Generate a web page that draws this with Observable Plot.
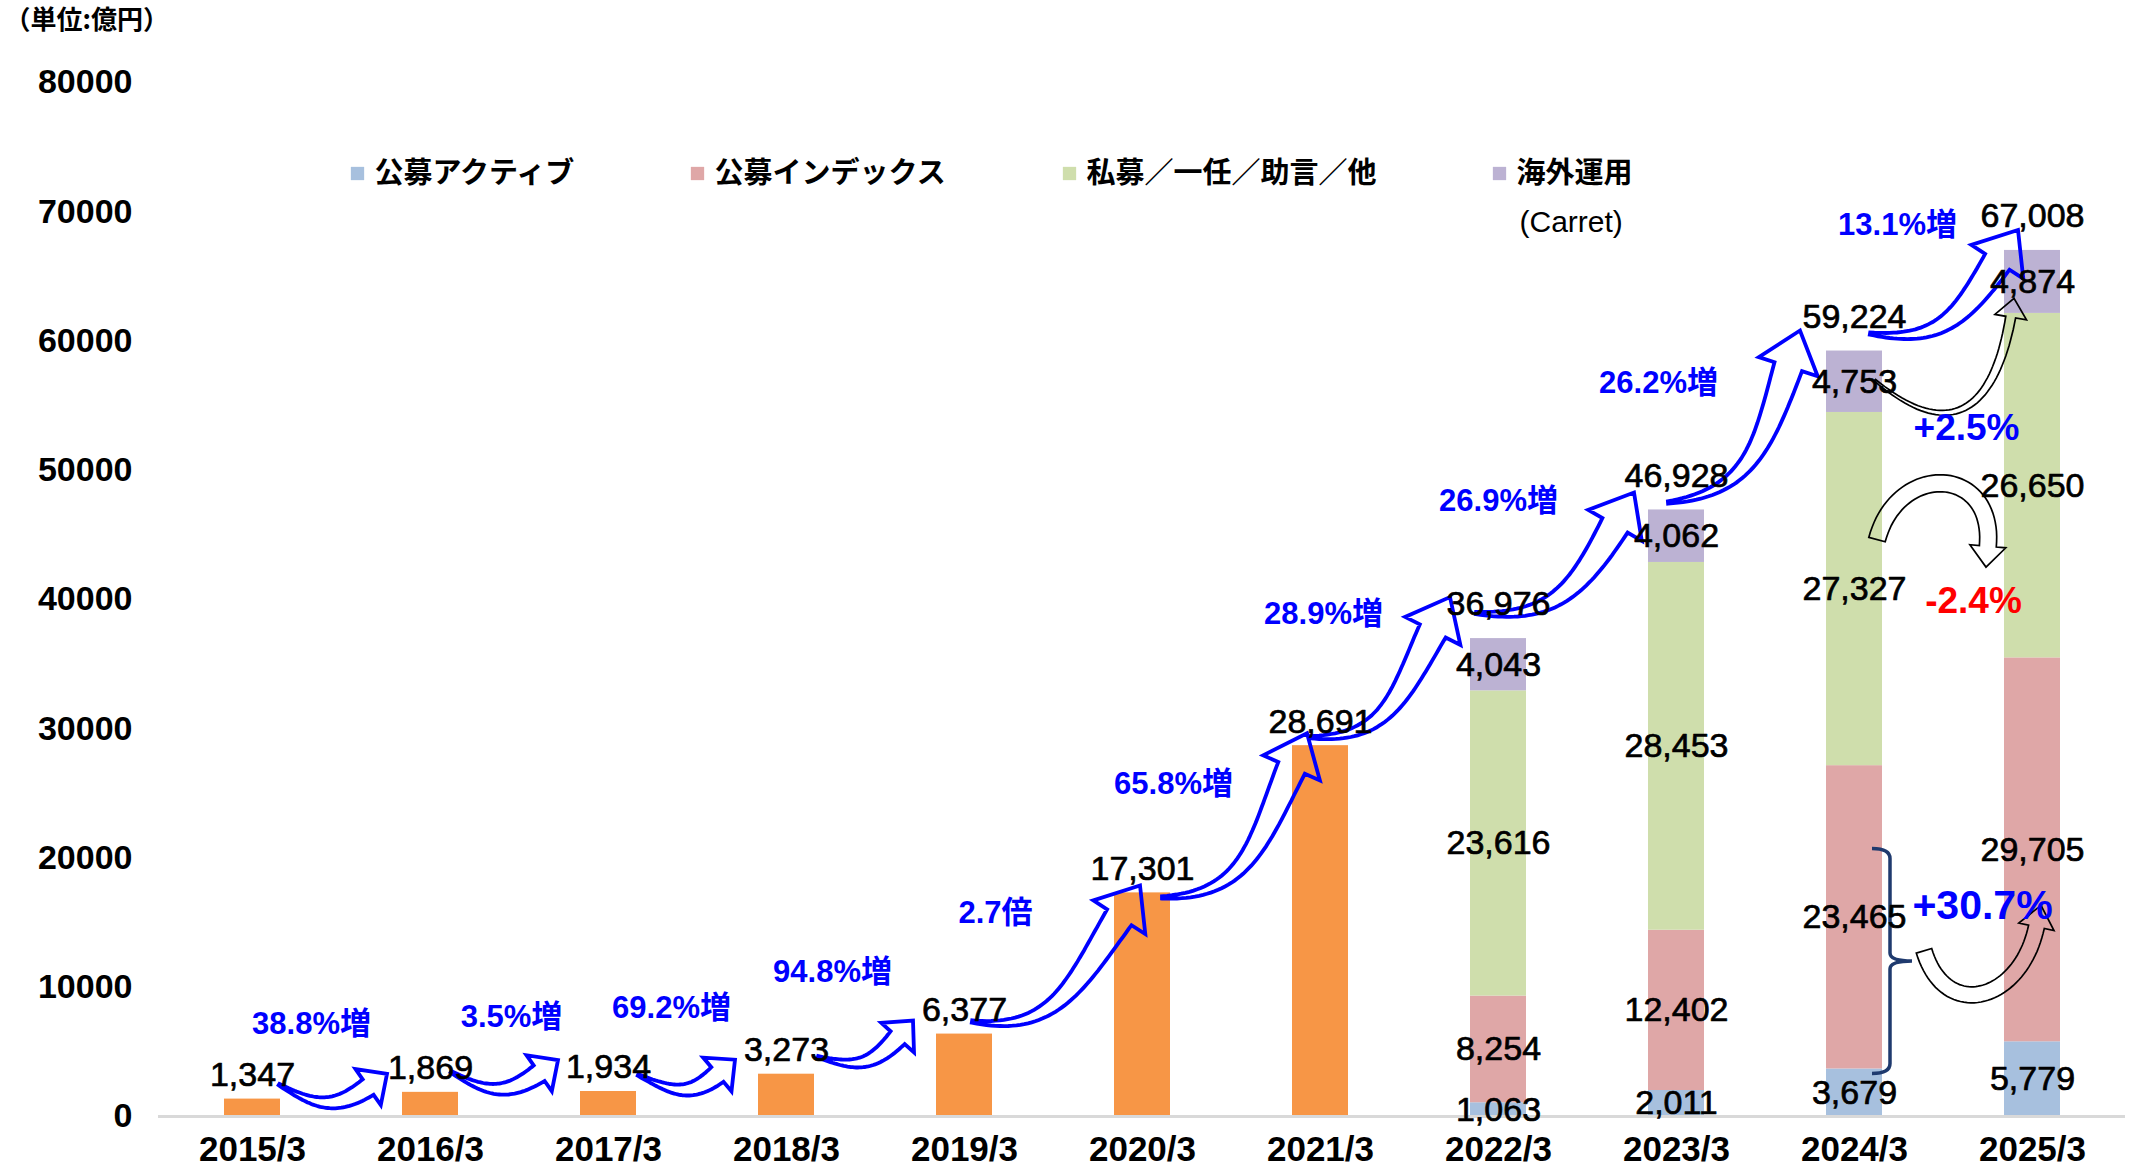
<!DOCTYPE html>
<html>
<head>
<meta charset="utf-8">
<script src="https://cdn.jsdelivr.net/npm/d3@7"></script>
<script src="https://cdn.jsdelivr.net/npm/@observablehq/plot@0.6"></script>
<style>
  html, body { margin: 0; padding: 0; background: #ffffff; }
  #chart { width: 2140px; height: 1168px; overflow: hidden; }
</style>
</head>
<body>
<div id="chart"></div>
<script>
// ---------------- DATA ----------------
const years = ["2015/3","2016/3","2017/3","2018/3","2019/3","2020/3","2021/3","2022/3","2023/3","2024/3","2025/3"];
const totals = [1347, 1869, 1934, 3273, 6377, 17301, 28691, 36976, 46928, 59224, 67008];

const series = ["公募アクティブ", "公募インデックス", "私募／一任／助言／他", "海外運用"];
const breakdownYears = ["2022/3", "2023/3", "2024/3", "2025/3"];
const publicActive = [1063, 2011, 3679, 5779];
const publicIndex  = [8254, 12402, 23465, 29705];
const privateEtc   = [23616, 28453, 27327, 26650];
const overseas     = [4043, 4062, 4753, 4874];

const growthLabels = ["38.8%増", "3.5%増", "69.2%増", "94.8%増", "2.7倍", "65.8%増", "28.9%増", "26.9%増", "26.2%増", "13.1%増"];
const compareLabels = ["+2.5%", "-2.4%", "+30.7%"];
const legendNote = "(Carret)";
const unitLabel = "（単位:億円）";
const yTicks = [0, 10000, 20000, 30000, 40000, 50000, 60000, 70000, 80000];

// ---------------- STYLE / LAYOUT ----------------
const COLORS = ["#f79646", "#a7c0de", "#dfa7a7", "#cfdeac", "#bcb2d3"];
const FONT_NUM = "'Liberation Sans', Arial, 'Noto Sans CJK JP', sans-serif";
const FONT_JP = "'Noto Sans CJK JP', 'Liberation Sans', sans-serif";
const BLUE = "#0000ff";

// annotation nudges in px, relative to the bar tops each arrow connects
const growthLayout = [
  {tail: [27, -14], tip: [-43, -18], head: -35, label: [59, -68], big: false},
  {tail: [21, -20], tip: [-50, -31], head: -35, label: [81, -74], big: false},
  {tail: [30, -16], tip: [-51, -14], head: -40, label: [63, -66], big: false},
  {tail: [32, -17], tip: [-51, -13], head: -48, label: [46, -62], big: false},
  {tail: [8, -12],  tip: [-2, -7],   head: -57, label: [31, 20],  big: true},
  {tail: [20, 5],   tip: [-13, -12], head: -66, label: [31, 38],  big: true},
  {tail: [-10, -8], tip: [-48, -41], head: -63, label: [3, -25],  big: true},
  {tail: [-22, -25],tip: [-42, -17], head: -60, label: [0, -9],   big: true},
  {tail: [-8, -7],  tip: [-54, -20], head: -72, label: [-18, 32], big: true},
  {tail: [16, -17], tip: [-14, -20], head: -57, label: [43, -25], big: true}
];
const SMALL = {sw: 19, hw: 44, hl: 23};
const BIG = {sw: 29, hw: 62, hl: 38};

// ---------------- TABLES ----------------
const fmt = d3.format(",");
const seriesValues = [publicActive, publicIndex, privateEtc, overseas];
const barRows = [];
years.forEach((yr, i) => {
  if (!breakdownYears.includes(yr)) barRows.push({year: yr, series: "total", value: totals[i]});
});
const segLabels = [];
breakdownYears.forEach((yr, j) => {
  let base = 0;
  seriesValues.forEach((arr, k) => {
    barRows.push({year: yr, series: series[k], value: arr[j]});
    segLabels.push({year: yr, k, value: arr[j], mid: base + arr[j] / 2});
    base += arr[j];
  });
});
const segMid = (yr, k) => segLabels.find(d => d.year === yr && d.k === k).mid;
const totalRows = years.map((yr, i) => ({year: yr, value: totals[i], stacked: breakdownYears.includes(yr)}));

// ---------------- ARROW GEOMETRY ----------------
function blockArrow(T, P, o) {
  const rad = a => a * Math.PI / 180;
  const hd = [Math.cos(rad(o.headAngle)), Math.sin(rad(o.headAngle))];
  const td = [Math.cos(rad(o.tailAngle)), Math.sin(rad(o.tailAngle))];
  const L = Math.hypot(P[0] - T[0], P[1] - T[1]);
  const E = [P[0] - o.hl * hd[0], P[1] - o.hl * hd[1]];
  const a = o.bow * L;
  const C1 = [T[0] + a * td[0], T[1] + a * td[1]];
  const C2 = [E[0] - a * hd[0], E[1] - a * hd[1]];
  const N = 48, left = [], right = [];
  for (let i = 0; i <= N; i++) {
    const t = i / N, u = 1 - t;
    const p = [0, 1].map(j => u*u*u*T[j] + 3*u*u*t*C1[j] + 3*u*t*t*C2[j] + t*t*t*E[j]);
    const d = [0, 1].map(j => 3*u*u*(C1[j]-T[j]) + 6*u*t*(C2[j]-C1[j]) + 3*t*t*(E[j]-C2[j]));
    const len = Math.hypot(d[0], d[1]) || 1;
    const n = [-d[1] / len, d[0] / len];
    const w = o.sw / 2 * (o.taper + (1 - o.taper) * t);
    left.push([p[0] + n[0] * w, p[1] + n[1] * w]);
    right.push([p[0] - n[0] * w, p[1] - n[1] * w]);
  }
  const nh = [-hd[1], hd[0]];
  const wl = [E[0] + nh[0] * o.hw / 2, E[1] + nh[1] * o.hw / 2];
  const wr = [E[0] - nh[0] * o.hw / 2, E[1] - nh[1] * o.hw / 2];
  const pts = [...left, wl, P, wr, ...right.reverse()];
  return "M" + pts.map(p => p[0].toFixed(1) + "," + p[1].toFixed(1)).join("L") + "Z";
}

function annotations(index, scales) {
  const bw = typeof scales.x.bandwidth === "function" ? scales.x.bandwidth() : scales.scales.x.bandwidth;
  const cx = yr => scales.x(yr) + bw / 2;
  const Y = v => scales.y(v);
  const g = d3.create("svg:g");
  // blue growth arrows
  growthLayout.forEach((a, i) => {
    const T = [cx(years[i]) + a.tail[0], Y(totals[i]) + a.tail[1]];
    const P = [cx(years[i + 1]) + a.tip[0], Y(totals[i + 1]) + a.tip[1]];
    const sz = a.big ? BIG : SMALL;
    g.append("path")
      .attr("d", blockArrow(T, P, {headAngle: a.head, tailAngle: a.head + 65, bow: 0.38, taper: 0.08, ...sz}))
      .attr("fill", "none").attr("stroke", BLUE).attr("stroke-width", 3.8).attr("stroke-linejoin", "miter");
  });
  // black comparison arrows (2024/3 -> 2025/3)
  const y24 = "2024/3", y25 = "2025/3";
  const black = [
    {k: 3, tail: [21, -1],  tip: [-18, 17], tailAngle: 40,  headAngle: -80, bow: 0.6,  sw: 10, hw: 32, hl: 19, taper: 0.2},
    {k: 2, tail: [23, -49], tip: [-46, 82], tailAngle: -75, headAngle: 95,  bow: 0.72, sw: 17, hw: 36, hl: 21, taper: 1},
    {k: 1, tail: [70, 34],  tip: [9, 56],   tailAngle: 73,  headAngle: -78, bow: 0.6,  sw: 16, hw: 36, hl: 22, taper: 1}
  ];
  black.forEach(b => {
    const T = [cx(y24) + b.tail[0], Y(segMid(y24, b.k)) + b.tail[1]];
    const P = [cx(y25) + b.tip[0], Y(segMid(y25, b.k)) + b.tip[1]];
    g.append("path").attr("d", blockArrow(T, P, b))
      .attr("fill", "none").attr("stroke", "#000").attr("stroke-width", 1.7);
  });
  // bracket on 2024/3
  const x0 = cx(y24) + 18, xs = cx(y24) + 36, xn = cx(y24) + 58;
  const bot = Y(publicActive[2]) + 5, top = bot - 225, mid = (top + bot) / 2;
  const d = `M${x0},${top} Q${xs},${top} ${xs},${top + 10} L${xs},${mid - 8} Q${xs},${mid} ${xn},${mid}` +
            `M${xn},${mid} Q${xs},${mid} ${xs},${mid + 8} L${xs},${bot - 10} Q${xs},${bot} ${x0},${bot}`;
  g.append("path").attr("d", d).attr("fill", "none").attr("stroke", "#1f3a6e").attr("stroke-width", 3.5);
  return g.node();
}

// ---------------- PLOT ----------------
const mL = 158, mT = 82;
const legendX = [357, 697, 1069, 1499];
const numText = {fontSize: 34, fontFamily: FONT_NUM, fill: "#000", stroke: "#000", strokeWidth: 0.7};
const marks = [
  Plot.barY(barRows, {x: "year", y: "value", fill: "series", order: ["total", ...series]}),
  Plot.ruleY([0], {stroke: "#d9d9d9", strokeWidth: 3}),
  Plot.axisX({tickSize: 0, tickPadding: 20, fontSize: 35, fontWeight: "bold", fontFamily: FONT_NUM, fill: "#000", label: null}),
  Plot.axisY({ticks: yTicks, tickSize: 0, tickPadding: 26, fontSize: 34, fontWeight: "bold", fontFamily: FONT_NUM, fill: "#000", label: null, tickFormat: d3.format("d")}),
  annotations,
  Plot.text(segLabels, {x: "year", y: "mid", text: d => fmt(d.value), ...numText}),
  Plot.text(totalRows.filter(d => !d.stacked), {x: "year", y: "value", text: d => fmt(d.value), dy: -24, ...numText}),
  Plot.text(totalRows.filter(d => d.stacked), {x: "year", y: "value", text: d => fmt(d.value), dy: -34, ...numText}),
  ...growthLabels.map((t, i) => Plot.text([t], {
    x: () => years[i], y: () => totals[i + 1], text: d => d,
    dx: growthLayout[i].label[0], dy: growthLayout[i].label[1],
    fontSize: 31, fontWeight: "bold", fontFamily: FONT_NUM, fill: BLUE
  })),
  Plot.text([compareLabels[0]], {x: () => "2024/3", y: () => segMid("2024/3", 3), text: d => d, dx: 112, dy: 46, fontSize: 37, fontWeight: "bold", fontFamily: FONT_NUM, fill: BLUE}),
  Plot.text([compareLabels[1]], {x: () => "2024/3", y: () => segMid("2024/3", 2), text: d => d, dx: 119, dy: 12, fontSize: 37, fontWeight: "bold", fontFamily: FONT_NUM, fill: "#ff0000"}),
  Plot.text([compareLabels[2]], {x: () => "2024/3", y: () => segMid("2024/3", 1), text: d => d, dx: 128, dy: -11, fontSize: 41, fontWeight: "bold", fontFamily: FONT_NUM, fill: BLUE}),
  // legend
  ...series.map((s, k) => Plot.dot([s], {frameAnchor: "top-left", dx: legendX[k] - mL, dy: 173 - mT, symbol: "square", r: 7.5, fill: COLORS[k + 1]})),
  ...series.map((s, k) => Plot.text([s], {frameAnchor: "top-left", lineAnchor: "middle", dx: legendX[k] + 17 - mL, dy: 173 - mT, text: d => d, textAnchor: "start", fontSize: 29, fontWeight: "bold", fontFamily: FONT_JP, fill: "#000"})),
  Plot.text([legendNote], {frameAnchor: "top-left", lineAnchor: "middle", dx: 1519 - mL, dy: 222 - mT, text: d => d, textAnchor: "start", fontSize: 30, fontFamily: FONT_NUM, fill: "#000"}),
  Plot.text([unitLabel], {frameAnchor: "top-left", lineAnchor: "middle", dx: 4 - mL, dy: 20 - mT, text: d => d, textAnchor: "start", fontSize: 26, fontWeight: "bold", fontFamily: FONT_JP, fill: "#000"})
];

const chart = Plot.plot({
  width: 2140, height: 1168,
  marginLeft: mL, marginRight: 15, marginTop: mT, marginBottom: 52,
  style: {background: "#ffffff", overflow: "visible", fontFamily: FONT_NUM},
  x: {domain: years, paddingInner: 0.687, paddingOuter: 0.341, axis: null},
  y: {domain: [0, 80000], axis: null},
  color: {domain: ["total", ...series], range: COLORS},
  marks
});
document.getElementById("chart").appendChild(chart);
</script>
</body>
</html>
